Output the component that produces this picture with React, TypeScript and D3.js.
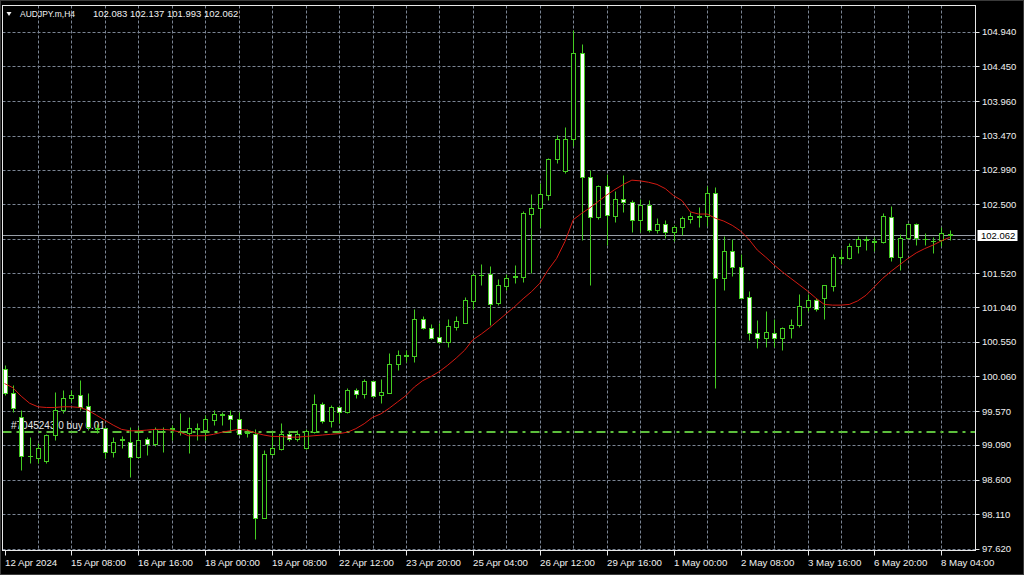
import React from "react";
import * as d3 from "d3";

const W = 1024;
const H = 575;

// OHLC per H4 bar
const openV = [
  100.17, 99.83, 99.48, 98.93, 98.90, 98.86, 99.23, 99.58, 99.75, 99.79,
  99.64, 99.33, 99.33, 98.99, 99.16, 99.13, 98.92, 99.17, 99.11, 99.31,
  99.32, 99.28, 99.26, 99.32, 99.30, 99.44, 99.52, 99.51, 99.46, 99.26,
  99.25, 98.06, 98.96, 99.03, 99.24, 99.17, 99.04, 99.28, 99.67, 99.43,
  99.62, 99.56, 99.87, 99.81, 99.99, 99.79, 99.83, 100.24, 100.35, 100.35,
  100.88, 100.75, 100.62, 100.55, 100.76, 100.82, 101.13, 101.49, 101.51, 101.10,
  101.34, 101.47, 101.47, 102.36, 102.44, 102.63, 103.14, 102.97, 103.42, 104.64,
  102.88, 102.32, 102.76, 102.33, 102.57, 102.53, 102.27, 102.49, 102.13, 102.22,
  102.10, 102.17, 102.29, 102.32, 102.33, 102.66, 101.46, 101.83, 101.61, 101.18,
  100.68, 100.60, 100.68, 100.61, 100.74, 100.79, 101.05, 101.14, 101.17, 101.34,
  101.74, 101.74, 101.91, 101.99, 101.98, 101.97, 102.32, 101.75, 102.02, 102.22,
  102.01, 101.98, 101.99, 102.083,
];
const highV = [
  100.22, 99.94, 99.58, 99.20, 99.12, 99.25, 99.84, 99.87, 99.87, 100.01,
  99.82, 99.38, 99.35, 99.20, 99.22, 99.34, 99.34, 99.20, 99.34, 99.35,
  99.37, 99.54, 99.49, 99.40, 99.51, 99.58, 99.56, 99.58, 99.56, 99.32,
  99.32, 99.02, 99.28, 99.40, 99.28, 99.30, 99.31, 99.81, 99.70, 99.66,
  99.64, 99.90, 99.89, 100.03, 100.00, 100.03, 100.39, 100.43, 100.44, 101.01,
  100.92, 100.80, 100.81, 100.88, 100.92, 101.19, 101.52, 101.65, 101.62, 101.44,
  101.51, 101.64, 102.41, 102.64, 102.80, 103.16, 103.48, 103.59, 104.97, 104.77,
  102.98, 102.77, 102.93, 102.69, 102.91, 102.56, 102.57, 102.56, 102.30, 102.27,
  102.20, 102.33, 102.39, 102.46, 102.76, 102.74, 102.05, 102.01, 101.79, 101.27,
  100.86, 100.98, 100.87, 100.76, 100.88, 101.23, 101.23, 101.17, 101.35, 101.79,
  101.86, 101.95, 102.05, 102.05, 102.04, 102.37, 102.47, 102.08, 102.24, 102.23,
  102.09, 102.03, 102.17, 102.137,
];
const lowV = [
  99.80, 99.56, 98.73, 98.83, 98.83, 98.83, 99.16, 99.54, 99.70, 99.58,
  99.30, 99.26, 98.90, 98.92, 99.04, 98.64, 98.90, 98.95, 99.08, 98.99,
  99.16, 99.23, 98.98, 99.16, 99.16, 99.37, 99.37, 99.28, 99.23, 99.20,
  97.76, 98.05, 98.95, 99.02, 99.14, 99.14, 99.03, 99.26, 99.40, 99.34,
  99.40, 99.54, 99.75, 99.75, 99.77, 99.69, 99.82, 100.15, 100.27, 100.27,
  100.73, 100.59, 100.54, 100.48, 100.72, 100.81, 101.02, 101.35, 100.79, 101.07,
  101.28, 101.38, 101.40, 101.52, 102.18, 102.56, 103.08, 102.94, 103.32, 101.99,
  101.35, 102.29, 101.92, 102.25, 102.39, 102.10, 102.11, 102.11, 102.09, 102.02,
  101.98, 102.06, 102.23, 102.17, 102.19, 99.89, 101.28, 101.48, 101.16, 100.57,
  100.46, 100.48, 100.47, 100.43, 100.61, 100.76, 100.99, 100.99, 100.88, 101.27,
  101.65, 101.72, 101.81, 101.85, 101.83, 101.95, 101.70, 101.57, 102.00, 101.92,
  101.92, 101.81, 101.91, 101.993,
];
const closeV = [
  99.82, 99.61, 98.93, 98.94, 99.05, 99.23, 99.58, 99.75, 99.79, 99.62,
  99.34, 99.31, 98.99, 99.13, 99.17, 98.92, 99.16, 99.11, 99.32, 99.32,
  99.33, 99.27, 99.33, 99.33, 99.46, 99.53, 99.53, 99.46, 99.24, 99.27,
  98.06, 98.96, 99.04, 99.25, 99.17, 99.24, 99.29, 99.67, 99.43, 99.62,
  99.56, 99.87, 99.81, 99.99, 99.78, 99.84, 100.24, 100.37, 100.36, 100.88,
  100.75, 100.61, 100.55, 100.77, 100.84, 101.14, 101.50, 101.50, 101.09, 101.35,
  101.46, 101.48, 102.37, 102.44, 102.64, 103.14, 103.42, 103.42, 104.64, 102.89,
  102.32, 102.76, 102.34, 102.57, 102.53, 102.28, 102.49, 102.14, 102.22, 102.10,
  102.17, 102.30, 102.33, 102.33, 102.66, 101.46, 101.83, 101.61, 101.17, 100.68,
  100.60, 100.69, 100.61, 100.74, 100.79, 101.06, 101.14, 101.02, 101.35, 101.75,
  101.75, 101.91, 102.00, 102.00, 101.97, 102.33, 101.75, 102.02, 102.22, 102.02,
  102.00, 101.98, 102.09, 102.062,
];
// Red moving-average line, one value per bar
const maV = [
  99.96, 99.90, 99.78, 99.68, 99.63, 99.62, 99.62, 99.63, 99.63, 99.62,
  99.58, 99.51, 99.44, 99.37, 99.31, 99.29, 99.29, 99.30, 99.31, 99.31,
  99.30, 99.27, 99.22, 99.22, 99.22, 99.24, 99.27, 99.29, 99.31, 99.30,
  99.26, 99.23, 99.21, 99.21, 99.20, 99.20, 99.21, 99.22, 99.23, 99.24,
  99.25, 99.27, 99.32, 99.39, 99.48, 99.53, 99.61, 99.70, 99.79, 99.91,
  100.00, 100.06, 100.13, 100.22, 100.32, 100.43, 100.58, 100.66, 100.75, 100.85,
  100.95, 101.05, 101.16, 101.26, 101.38, 101.57, 101.73, 101.97, 102.28, 102.37,
  102.45, 102.54, 102.63, 102.71, 102.78, 102.84, 102.83, 102.81, 102.78, 102.72,
  102.62, 102.55, 102.39, 102.36, 102.36, 102.30, 102.26, 102.20, 102.12, 102.00,
  101.85, 101.75, 101.64, 101.54, 101.45, 101.36, 101.27, 101.17, 101.08, 101.07,
  101.07, 101.08, 101.13, 101.21, 101.33, 101.45, 101.55, 101.64, 101.73, 101.81,
  101.87, 101.92, 101.98, 102.03,
];

const timeLabels = [
  "12 Apr 2024", "15 Apr 08:00", "16 Apr 16:00", "18 Apr 00:00", "19 Apr 08:00",
  "22 Apr 12:00", "23 Apr 20:00", "25 Apr 04:00", "26 Apr 12:00", "29 Apr 16:00",
  "1 May 00:00", "2 May 08:00", "3 May 16:00", "6 May 20:00", "8 May 04:00",
];
const priceTicks = [
  104.94, 104.45, 103.96, 103.47, 102.99, 102.5, 102.01, 101.52,
  101.04, 100.55, 100.06, 99.57, 99.09, 98.6, 98.11, 97.62,
];
const currentPrice = 102.062;
const orderPrice = 99.277;
const symbolText = "AUDJPY.m,H4";
const ohlcText = "102.083 102.137 101.993 102.062";
const orderText = "#7045243 0 buy 0.01";

const GREEN = "#44cc22";
const GRID = "#7b8594";
const FONT = "'Liberation Sans', Arial, sans-serif";

export default function App() {
  const left = 2.5, top = 5.5, right = 975.5, bottom = 550.5;
  const y = d3.scaleLinear().domain([97.62, 104.94]).range([548.7, 31.9]);
  const x = d3.scaleLinear().domain([0, 113]).range([4.5, 949.7]);
  const px = (i: number) => Math.round(x(i)) + 0.5;
  const py = (v: number) => Math.round(y(v)) + 0.5;

  const bars = d3.range(openV.length);
  const vGrid = bars.filter((i) => i > 0 && i % 4 === 0);
  const labelIdx = timeLabels.map((_, k) => k * 8);

  const maLine = d3
    .line<number>()
    .x((i) => x(i))
    .y((i) => y(maV[i]))
    .curve(d3.curveLinear);

  const curY = y(currentPrice);

  return (
    <svg
      width={W}
      height={H}
      style={{ position: "absolute", left: 0, top: 0, display: "block", background: "#000" }}
    >
      <rect x={0} y={0} width={W} height={H} fill="#000" />
      <rect x={0.5} y={0.5} width={W - 1} height={H - 1} fill="none" stroke="#3a3a3a" />

      {/* grid */}
      {priceTicks.map((p) => (
        <line key={"h" + p} x1={left} x2={right} y1={py(p)} y2={py(p)}
          stroke={GRID} strokeDasharray="3,2" strokeWidth={1} />
      ))}
      {vGrid.map((i) => (
        <line key={"v" + i} x1={px(i)} x2={px(i)} y1={top} y2={bottom}
          stroke={GRID} strokeDasharray="3,2" strokeWidth={1} />
      ))}

      {/* order label & line (under candles) */}
      <text x={11} y={y(orderPrice) - 3} fill="#e6e6e6" fontFamily={FONT} fontSize={10}>
        {orderText}
      </text>
      <line x1={left} x2={right} y1={Math.round(y(orderPrice))} y2={Math.round(y(orderPrice))}
        stroke="#5dbf3c" strokeWidth={2} strokeDasharray="9,5,3,5" />

      {/* current price line */}
      <line x1={left} x2={right} y1={Math.round(curY) + 0.5} y2={Math.round(curY) + 0.5}
        stroke="#9aa0a8" strokeWidth={1} />

      {/* candles */}
      {bars.map((i) => {
        const o = openV[i], c = closeV[i];
        const cx = px(i);
        const yTop = py(Math.max(o, c));
        const yBot = py(Math.min(o, c));
        const bull = c >= o;
        return (
          <g key={"c" + i}>
            <line x1={cx} x2={cx} y1={py(highV[i])} y2={py(lowV[i])} stroke={GREEN} strokeWidth={1} />
            {yBot - yTop < 1 ? (
              <line x1={cx - 2.5} x2={cx + 2.5} y1={yTop} y2={yTop} stroke={GREEN} strokeWidth={1} />
            ) : (
              <rect x={cx - 2} y={yTop} width={4} height={yBot - yTop}
                fill={bull ? "#000" : "#fff"} stroke={GREEN} strokeWidth={1} />
            )}
          </g>
        );
      })}

      {/* moving average */}
      <path d={maLine(bars) || ""} fill="none" stroke="#d41a12" strokeWidth={1} />

      {/* frame */}
      <rect x={left} y={top} width={right - left} height={bottom - top} fill="none" stroke="#e8e8e8" strokeWidth={1} />

      {/* price axis */}
      {priceTicks
        .filter((p) => Math.abs(y(p) - curY) > 8)
        .map((p) => (
          <g key={"pl" + p}>
            <line x1={right} x2={right + 4} y1={py(p)} y2={py(p)} stroke="#e8e8e8" />
            <text x={982} y={y(p) + 3.5} fill="#f0f0f0" fontFamily={FONT} fontSize={9.5}>
              {p.toFixed(3)}
            </text>
          </g>
        ))}
      <rect x={977.5} y={Math.round(curY) - 5} width={40} height={11} fill="#fff" />
      <text x={981} y={curY + 4} fill="#000" fontFamily={FONT} fontSize={9.5}>
        {currentPrice.toFixed(3)}
      </text>

      {/* time axis */}
      {labelIdx.map((i, k) => (
        <g key={"t" + i}>
          <line x1={px(i)} x2={px(i)} y1={bottom} y2={bottom + 5} stroke="#e8e8e8" />
          <text x={px(i) - 0.5} y={566} fill="#f0f0f0" fontFamily={FONT} fontSize={9.7}>
            {timeLabels[k]}
          </text>
        </g>
      ))}

      {/* header */}
      <polygon points="6.5,12 11.5,12 9,16" fill="#f0f0f0" />
      <text x={20} y={17} fill="#f0f0f0" fontFamily={FONT} fontSize={9.8} textLength={55} lengthAdjust="spacingAndGlyphs">
        {symbolText}
      </text>
      <text x={93} y={17} fill="#f0f0f0" fontFamily={FONT} fontSize={9.5}>
        {ohlcText}
      </text>
    </svg>
  );
}
